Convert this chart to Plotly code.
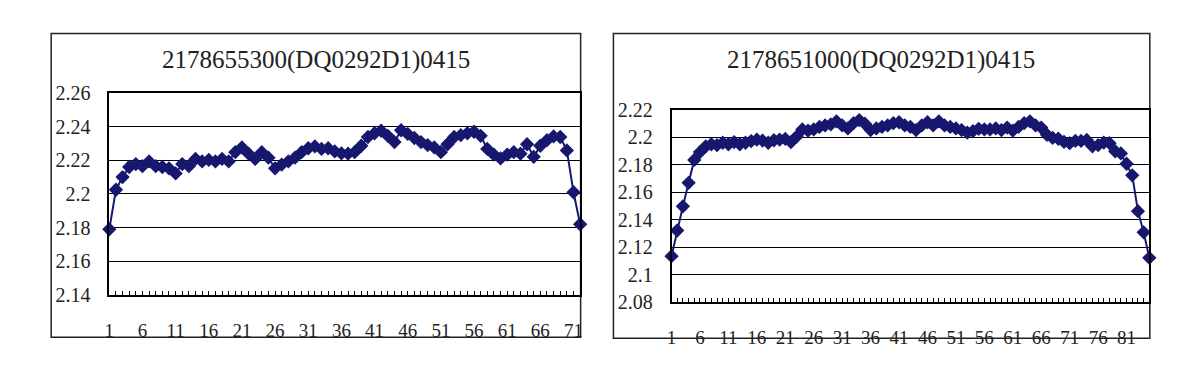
import plotly.graph_objects as go

W, H = 1200, 370

left_title = "2178655300(DQ0292D1)0415"
right_title = "2178651000(DQ0292D1)0415"

left_values = [
    2.179, 2.2025, 2.210, 2.216, 2.2177, 2.2165, 2.2193, 2.2165, 2.216, 2.2152,
    2.2122, 2.2177, 2.2165, 2.2208, 2.2193, 2.2202, 2.2193, 2.2208, 2.2193, 2.2248,
    2.2276, 2.2239, 2.2208, 2.2248, 2.2215, 2.2152, 2.2174, 2.2193, 2.2215, 2.2248,
    2.2271, 2.2282, 2.2267, 2.2271, 2.2252, 2.2241, 2.2239, 2.2248, 2.2286, 2.2338,
    2.236, 2.2375, 2.2345, 2.2308, 2.2378, 2.2356, 2.2332, 2.2308, 2.229, 2.2276,
    2.2248, 2.2295, 2.2338, 2.2349, 2.236, 2.2369, 2.2345, 2.2267, 2.2233, 2.2211,
    2.2233, 2.2248, 2.2239, 2.2295, 2.222, 2.2286, 2.2319, 2.2341, 2.2338, 2.2258,
    2.201, 2.182,
]

right_values = [
    2.1134, 2.1321, 2.1497, 2.1668, 2.1835, 2.1892, 2.1933, 2.1949, 2.1942, 2.196,
    2.1949, 2.1965, 2.1949, 2.196, 2.1972, 2.1983, 2.1976, 2.196, 2.1978, 2.1983,
    2.1988, 2.1965, 2.2005, 2.2057, 2.2048, 2.2057, 2.2075, 2.2086, 2.2093, 2.2116,
    2.2086, 2.2064, 2.2102, 2.2125, 2.2098, 2.2052, 2.2064, 2.2075, 2.2086, 2.2102,
    2.2109, 2.2086, 2.2075, 2.2052, 2.2086, 2.2109, 2.2086, 2.2116, 2.2086, 2.2075,
    2.2064, 2.2052, 2.2034, 2.2045, 2.2061, 2.2057, 2.2057, 2.2064, 2.2052, 2.207,
    2.2048, 2.2075, 2.2102, 2.2116, 2.2086, 2.207, 2.2018, 2.1995, 2.1989, 2.1966,
    2.1957, 2.1973, 2.1973, 2.198, 2.1934, 2.1943, 2.1961, 2.1957, 2.1898, 2.1882,
    2.1807, 2.1723, 2.1462, 2.1308, 2.1122,
]

left_categories = list(range(1, len(left_values) + 1))
right_categories = list(range(1, len(right_values) + 1))

left_yticks = [2.14, 2.16, 2.18, 2.2, 2.22, 2.24, 2.26]
left_yticktext = ["2.14", "2.16", "2.18", "2.2", "2.22", "2.24", "2.26"]
right_yticks = [2.08, 2.1, 2.12, 2.14, 2.16, 2.18, 2.2, 2.22]
right_yticktext = ["2.08", "2.1", "2.12", "2.14", "2.16", "2.18", "2.2", "2.22"]

NAVY = "#17176f"
FONT = "Liberation Serif"


def px_x(p):
    return p / W


def px_y(p):
    return 1 - p / H


fig = go.Figure()

marker = dict(symbol="diamond", size=11, color=NAVY, line=dict(width=0))
fig.add_trace(go.Scatter(x=left_categories, y=left_values, mode="lines+markers",
                         line=dict(color=NAVY, width=2), marker=marker,
                         xaxis="x", yaxis="y", showlegend=False, cliponaxis=False))
fig.add_trace(go.Scatter(x=right_categories, y=right_values, mode="lines+markers",
                         line=dict(color=NAVY, width=2), marker=marker,
                         xaxis="x2", yaxis="y2", showlegend=False, cliponaxis=False))

common_x = dict(
    tickmode="linear", tick0=1, dtick=5, ticks="inside", ticklen=4, tickwidth=1,
    tickcolor="black", showgrid=False, zeroline=False, showline=True,
    linecolor="black", linewidth=1.5, mirror=True,
    tickfont=dict(family=FONT, size=19, color="#222"),
    ticklabelstandoff=17,
    minor=dict(ticks="inside", dtick=1, tick0=1, ticklen=4, tickcolor="black", showgrid=False),
)
common_y = dict(
    tickmode="array", ticks="", showgrid=True, gridcolor="black", gridwidth=1,
    zeroline=False, showline=True, linecolor="black", linewidth=1.5, mirror=True,
    tickfont=dict(family=FONT, size=20, color="#222"),
    ticklabelstandoff=13,
)

fig.update_layout(
    width=W, height=H, margin=dict(l=0, r=0, t=0, b=0),
    paper_bgcolor="white", plot_bgcolor="white",
    xaxis=dict(domain=[px_x(105), px_x(579)], range=[1, len(left_values)], anchor="y", **common_x),
    yaxis=dict(domain=[px_y(302), px_y(87)], range=[2.14, 2.26], anchor="x",
               tickvals=left_yticks, ticktext=left_yticktext, **common_y),
    xaxis2=dict(domain=[px_x(671), px_x(1152)], range=[1, len(right_values)], anchor="y2", **common_x),
    yaxis2=dict(domain=[px_y(309.5), px_y(105)], range=[2.08, 2.22], anchor="x2",
                tickvals=right_yticks, ticktext=right_yticktext, **common_y),
    shapes=[
        dict(type="rect", xref="paper", yref="paper",
             x0=px_x(46.5), x1=px_x(579.5), y0=px_y(347), y1=px_y(24),
             line=dict(color="#222", width=1.5), layer="below"),
        dict(type="rect", xref="paper", yref="paper",
             x0=px_x(612.5), x1=px_x(1152.5), y0=px_y(348), y1=px_y(24),
             line=dict(color="#222", width=1.5), layer="below"),
    ],
    annotations=[
        dict(text=left_title, xref="paper", yref="paper", x=px_x(313), y=px_y(52),
             xanchor="center", yanchor="middle", showarrow=False,
             font=dict(family=FONT, size=25, color="#222")),
        dict(text=right_title, xref="paper", yref="paper", x=px_x(882), y=px_y(52),
             xanchor="center", yanchor="middle", showarrow=False,
             font=dict(family=FONT, size=25, color="#222")),
    ],
)

fig.write_html("out.html")
